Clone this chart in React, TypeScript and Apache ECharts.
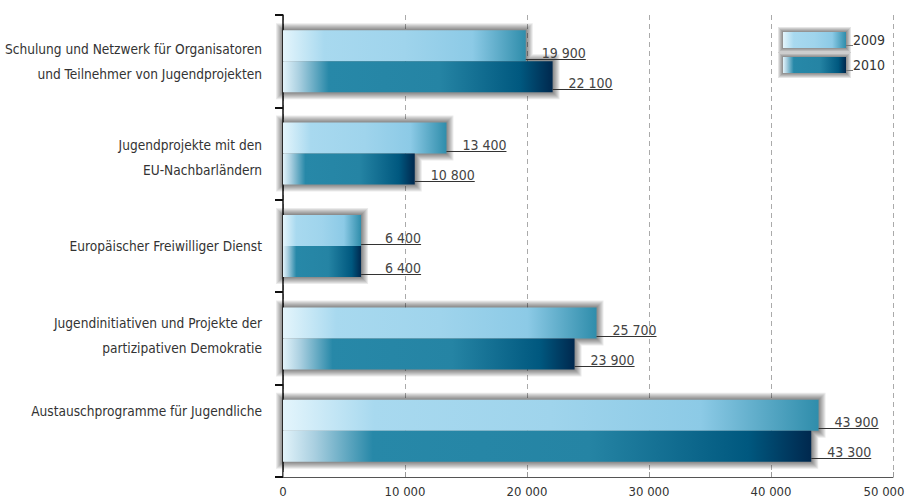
import { useEffect, useRef } from 'react';
import * as echarts from 'echarts';

const categories = [
  'Schulung und Netzwerk für Organisatoren\nund Teilnehmer von Jugendprojekten',
  'Jugendprojekte mit den\nEU-Nachbarländern',
  'Europäischer Freiwilliger Dienst',
  'Jugendinitiativen und Projekte der\npartizipativen Demokratie',
  'Austauschprogramme für Jugendliche',
];
const seriesNames = ['2009', '2010'];
const values2009 = [19900, 13400, 6400, 25700, 43900];
const values2010 = [22100, 10800, 6400, 23900, 43300];
const xMin = 0;
const xMax = 50000;
const xInterval = 10000;

const FONT = "'Liberation Sans Narrow', 'Arial Narrow', 'DejaVu Sans Condensed', sans-serif";
const FS = 13.6;
const BAR_W = 31;
// vertical nudge of the category labels (px, positive = up) – layout only
const LABEL_NUDGE = [0, -3.5, 0, 3, 20];

const fmt = (v: number) => String(v).replace(/\B(?=(\d{3})+(?!\d))/g, ' ');

const grad2009 = () =>
  new echarts.graphic.LinearGradient(0, 0, 1, 0, [
    { offset: 0, color: '#e4f5fc' },
    { offset: 0.17, color: '#a8d9ef' },
    { offset: 0.5, color: '#9fd4ec' },
    { offset: 0.78, color: '#8ccae6' },
    { offset: 1, color: '#2f8dab' },
  ]);
const grad2010 = () =>
  new echarts.graphic.LinearGradient(0, 0, 1, 0, [
    { offset: 0, color: '#e2f3fa' },
    { offset: 0.06, color: '#a9cfe0' },
    { offset: 0.17, color: '#2788a8' },
    { offset: 0.58, color: '#2584a4' },
    { offset: 0.88, color: '#00587f' },
    { offset: 1, color: '#00284e' },
  ]);

const SHADOW_LAYERS = 7;
const SHADOW_ALPHA = 0.078;

// soft frame made of stacked translucent rectangles (legend icons)
const frameRects = (x: number, y: number, w: number, h: number) => {
  const out: any[] = [];
  const layers = 5;
  for (let d = layers; d >= 1; d--) {
    out.push({
      type: 'rect',
      z: 0,
      silent: true,
      shape: { x: x - d, y: y - d, width: w + 2 * d, height: h + 2 * d },
      style: { fill: 'rgba(0,0,0,0.1)' },
    });
  }
  out.push({
    type: 'line',
    z: 0,
    silent: true,
    shape: { x1: x + w, y1: y + h - 2.5, x2: x + w + 7, y2: y + h - 2.5 },
    style: { stroke: '#777', lineWidth: 1 },
  });
  return out;
};

export default function App() {
  const ref = useRef<HTMLDivElement>(null);
  useEffect(() => {
    if (!ref.current) return;
    const chart = echarts.init(ref.current, undefined, { renderer: 'svg' });
    const pairData = categories.map((_, i) => [i, values2009[i], values2010[i]]);

    const rich: any = {
      t: { fontFamily: FONT, fontSize: FS, lineHeight: 25, color: '#333', align: 'right' },
    };
    LABEL_NUDGE.forEach((n, i) => {
      rich['sp' + i] = { fontSize: 1, lineHeight: Math.max(1, Math.abs(n) * 2) };
    });

    const legendIcon = (top: number) => frameRects(783, top, 63, 16);

    const option: any = {
      animation: false,
      backgroundColor: '#ffffff',
      grid: { left: 283, right: 13, top: 15, bottom: 26, containLabel: false, outerBoundsMode: 'none' },
      graphic: [...legendIcon(32), ...legendIcon(57)],
      legend: {
        data: seriesNames,
        orient: 'vertical',
        left: 783,
        top: 32,
        padding: 0,
        z: 10,
        itemWidth: 63,
        itemHeight: 16,
        itemGap: 9,
        icon: 'rect',
        textStyle: { fontFamily: FONT, fontSize: 14, color: '#333', padding: [0, 0, 0, 2] },
      },
      xAxis: {
        type: 'value',
        min: xMin,
        max: xMax,
        interval: xInterval,
        axisLine: { show: true, lineStyle: { color: '#555', width: 1 } },
        axisTick: { show: true, inside: true, length: 5, lineStyle: { color: '#999' } },
        axisLabel: {
          fontFamily: FONT,
          fontSize: 13,
          color: '#333',
          margin: 8,
          formatter: (v: number) => (v === xMax ? `{last|${fmt(v)}}` : fmt(v)),
          rich: {
            last: { fontFamily: FONT, fontSize: 13, color: '#333', padding: [0, 18, 0, 0] },
          },
        },
        splitLine: { show: true, lineStyle: { type: [5, 4], color: '#aaa', width: 1 } },
      },
      yAxis: {
        type: 'category',
        inverse: true,
        data: categories,
        axisLine: { show: true, lineStyle: { color: '#111', width: 1.5 } },
        axisTick: { show: true, length: 8, lineStyle: { color: '#111', width: 2 } },
        axisLabel: {
          fontFamily: FONT,
          fontSize: FS,
          lineHeight: 25,
          color: '#333',
          margin: 21,
          align: 'right',
          rich,
          formatter: (value: string, index: number) => {
            const body = value
              .split('\n')
              .map((l) => `{t|${l}}`)
              .join('\n');
            const n = LABEL_NUDGE[index] || 0;
            if (n > 0) return `${body}\n{sp${index}| }`;
            if (n < 0) return `{sp${index}| }\n${body}`;
            return body;
          },
        },
        splitLine: { show: false },
      },
      series: [
        {
          type: 'custom',
          name: 'shadow',
          z: 1,
          silent: true,
          encode: { x: [1, 2], y: 0 },
          data: pairData,
          renderItem: (_p: any, api: any) => {
            const i = api.value(0);
            const s = api.coord([0, i]);
            const e1 = api.coord([api.value(1), i])[0];
            const e2 = api.coord([api.value(2), i])[0];
            const x0 = s[0];
            const top = s[1] - BAR_W;
            const mid = s[1];
            const bot = s[1] + BAR_W;
            const children: any[] = [];
            for (let d = SHADOW_LAYERS; d >= 1; d--) {
              const m = e1 < e2 ? mid - d : mid + d;
              children.push({
                type: 'polygon',
                shape: {
                  points: [
                    [x0 - d, top - d],
                    [e1 + d, top - d],
                    [e1 + d, m],
                    [e2 + d, m],
                    [e2 + d, bot + d],
                    [x0 - d, bot + d],
                  ],
                },
                style: { fill: `rgba(0,0,0,${SHADOW_ALPHA})` },
              });
            }
            return { type: 'group', children };
          },
        },
        {
          type: 'bar',
          name: seriesNames[0],
          z: 3,
          data: values2009,
          barWidth: BAR_W,
          barGap: '0%',
          itemStyle: { color: grad2009() },
        },
        {
          type: 'bar',
          name: seriesNames[1],
          z: 3,
          data: values2010,
          barWidth: BAR_W,
          barGap: '0%',
          itemStyle: { color: grad2010() },
        },
        {
          type: 'custom',
          name: 'labels',
          z: 5,
          silent: true,
          encode: { x: [1, 2], y: 0 },
          data: pairData,
          renderItem: (_p: any, api: any) => {
            const i = api.value(0);
            const s = api.coord([0, i]);
            const v1 = api.value(1);
            const v2 = api.value(2);
            const e1 = api.coord([v1, i])[0];
            const e2 = api.coord([v2, i])[0];
            const L = 60;
            const y1 = Math.round(s[1] - 2.5) + 0.5;
            const y2 = Math.round(s[1] + BAR_W - 3.5) + 0.5;
            const lineStyle = { stroke: '#333', lineWidth: 1 };
            const txt = (t: string, x: number, y: number) => ({
              type: 'text',
              style: {
                text: t,
                x,
                y,
                fill: '#444',
                font: `14px ${FONT}`,
                align: 'right',
                verticalAlign: 'bottom',
              },
            });
            return {
              type: 'group',
              children: [
                { type: 'line', shape: { x1: e1, y1, x2: e1 + L, y2: y1 }, style: lineStyle },
                { type: 'line', shape: { x1: e2, y1: y2, x2: e2 + L, y2 }, style: lineStyle },
                txt(fmt(v1), e1 + L, y1 + 0.5),
                txt(fmt(v2), e2 + L, y2 + 0.5),
              ],
            };
          },
        },
      ],
    };
    chart.setOption(option);
    return () => chart.dispose();
  }, []);
  return (
    <div
      ref={ref}
      style={{ position: 'fixed', left: 0, top: 0, width: 906, height: 503, background: '#fff' }}
    />
  );
}
